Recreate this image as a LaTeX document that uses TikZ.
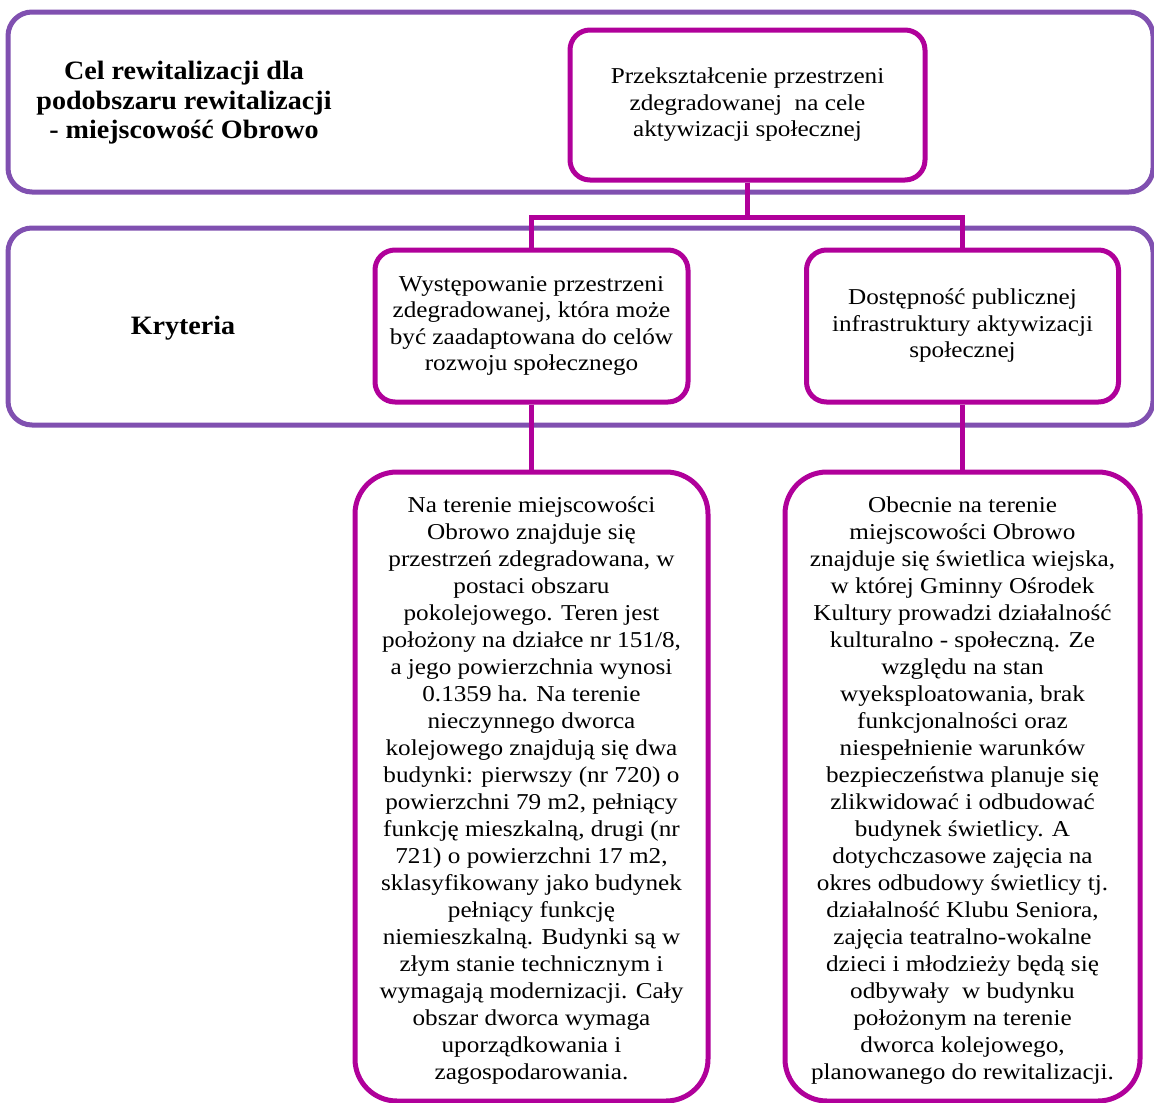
\documentclass[tikz,border=0pt]{standalone}
\usepackage{fontspec}
\setmainfont{Liberation Serif}
\newfontfamily\bodyfont[FakeStretch=1.11]{Liberation Serif}
\newfontfamily\lblfont[FakeStretch=1.06]{Liberation Serif}
\definecolor{outerc}{RGB}{128,80,176}
\definecolor{innerc}{RGB}{176,0,154}
\begin{document}
\begin{tikzpicture}[x=1pt,y=-1pt,
  outerbox/.style={draw=outerc,line width=5pt,rounded corners=24pt,fill=white,inner sep=0pt},
  innerbox/.style={draw=innerc,line width=5pt,rounded corners=20pt,fill=white,align=center,inner sep=0pt,
     font=\bodyfont\fontsize{22.7}{26.5}\selectfont},
  detailbox/.style={innerbox,rounded corners=42pt,font=\bodyfont\fontsize{22.7}{27}\selectfont},
  bodytext/.style={align=center,inner sep=0pt,font=\bodyfont\fontsize{22.7}{27}\selectfont},
  conn/.style={draw=innerc,line width=5pt},
  lbl/.style={align=center,font=\lblfont\fontsize{26.5}{29.5}\selectfont\bfseries}]
\useasboundingbox[fill=white] (0,0) rectangle (1154,1103);
\node[outerbox,minimum width=1145pt,minimum height=180pt] (top) at (580.5,102) {};
\node[outerbox,minimum width=1145pt,minimum height=197pt] (crit) at (580.5,326.5) {};
\node[lbl] (cel) at (184,103) {Cel rewitalizacji dla\\podobszaru rewitalizacji\\- miejscowość Obrowo};
\node[lbl] (kry) at (183,328) {Kryteria};
\node[innerbox,minimum width=355pt,minimum height=150pt] (goal) at (747.5,105) {Przekształcenie przestrzeni\\zdegradowanej\ \ na cele\\aktywizacji społecznej};
\node[innerbox,minimum width=313pt,minimum height=152pt] (c1) at (531.5,326) {Występowanie przestrzeni\\zdegradowanej, która może\\być zaadaptowana do celów\\rozwoju społecznego};
\node[innerbox,minimum width=312pt,minimum height=152pt] (c2) at (962.5,326) {Dostępność publicznej\\infrastruktury aktywizacji\\społecznej};
\node[detailbox,minimum width=353pt,minimum height=629pt] (d1) at (531.5,786.5) {};
\node[detailbox,minimum width=355pt,minimum height=629pt] (d2) at (962.5,786.5) {};
\node[bodytext] (t1) at (531.5,791) {Na terenie miejscowości\\Obrowo znajduje się\\przestrzeń zdegradowana, w\\postaci obszaru\\pokolejowego. Teren jest\\położony na działce nr 151/8,\\a jego powierzchnia wynosi\\0.1359 ha. Na terenie\\nieczynnego dworca\\kolejowego znajdują się dwa\\budynki: pierwszy (nr 720) o\\powierzchni 79 m2, pełniący\\funkcję mieszkalną, drugi (nr\\721) o powierzchni 17 m2,\\sklasyfikowany jako budynek\\pełniący funkcję\\niemieszkalną. Budynki są w\\złym stanie technicznym i\\wymagają modernizacji. Cały\\obszar dworca wymaga\\uporządkowania i\\zagospodarowania.};
\node[bodytext] (t2) at (962.5,791) {Obecnie na terenie\\miejscowości Obrowo\\znajduje się świetlica wiejska,\\w której Gminny Ośrodek\\Kultury prowadzi działalność\\kulturalno - społeczną. Ze\\względu na stan\\wyeksploatowania, brak\\funkcjonalności oraz\\niespełnienie warunków\\bezpieczeństwa planuje się\\zlikwidować i odbudować\\budynek świetlicy. A\\dotychczasowe zajęcia na\\okres odbudowy świetlicy tj.\\działalność Klubu Seniora,\\zajęcia teatralno-wokalne\\dzieci i młodzieży będą się\\odbywały\ \ w budynku\\położonym na terenie\\dworca kolejowego,\\planowanego do rewitalizacji.};
\draw[conn] (goal.south) -- ++(0,35) -| (c1.north);
\draw[conn] (goal.south) -- ++(0,35) -| (c2.north);
\draw[conn] (c1.south) -- (d1.north);
\draw[conn] (c2.south) -- (d2.north);
\end{tikzpicture}
\end{document}
